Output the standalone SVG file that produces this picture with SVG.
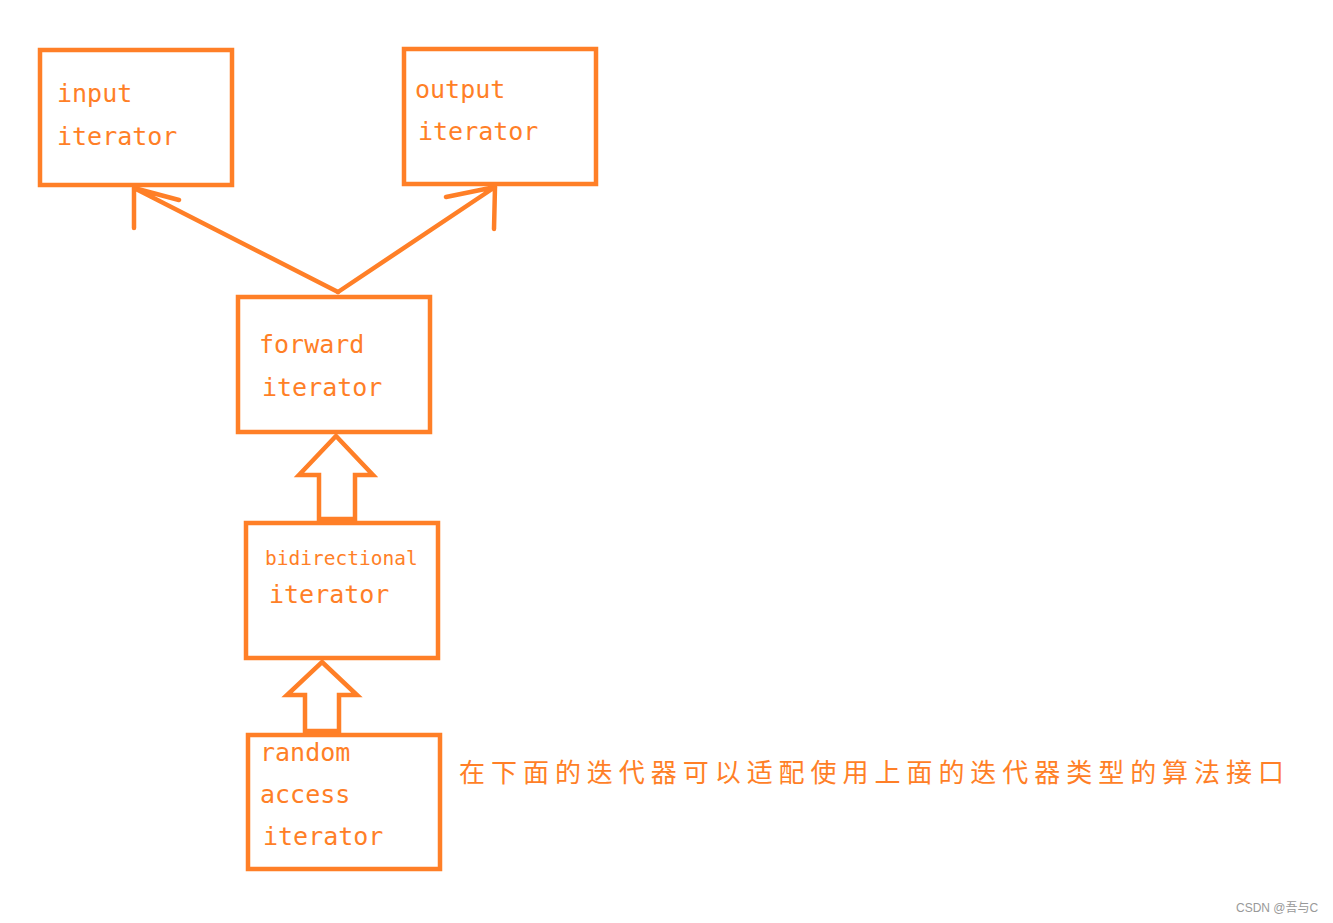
<svg xmlns="http://www.w3.org/2000/svg" width="1333" height="923" viewBox="0 0 1333 923">
<style>
.box{fill:none;stroke:#FF7F27;stroke-width:4.5}
.t{font-family:"DejaVu Sans Mono","Liberation Mono",monospace;font-size:25px;fill:#FF7F27}
.ln{fill:none;stroke:#FF7F27;stroke-width:4.5;stroke-linecap:round;stroke-linejoin:round}
.blk{fill:#fff;stroke:#FF7F27;stroke-width:4.5;stroke-linejoin:miter}
.cn{font-family:"Noto Sans CJK SC",sans-serif;font-size:26px;fill:#FF7F27}
</style>
<rect width="1333" height="923" fill="#fff"/>
<g id="connectors">
<path class="ln" d="M338,292 L134,188 M134,188 L134,228 M134,188 L179,200"/>
<path class="ln" d="M338,292 L495,187 M495,187 L494,229 M495,187 L446,197"/>
<path class="blk" d="M336,436 L373,475 L355,475 L355,519 L319,519 L319,475 L299,475 Z"/>
<path class="blk" d="M322,662 L357,695 L339,695 L339,731 L305,731 L305,695 L287,695 Z"/>
</g>
<g id="input">
<rect class="box" x="40" y="50" width="192" height="135"/>
<text class="t" x="57" y="102">input</text>
<text class="t" x="57" y="145">iterator</text>
</g>
<g id="output">
<rect class="box" x="404" y="49" width="192" height="135"/>
<text class="t" x="415" y="98">output</text>
<text class="t" x="418" y="140">iterator</text>
</g>
<g id="forward">
<rect class="box" x="238" y="297" width="192" height="135"/>
<text class="t" x="259" y="353">forward</text>
<text class="t" x="262" y="396">iterator</text>
</g>
<g id="bidirectional">
<rect class="box" x="246" y="523" width="192" height="135"/>
<text class="t" x="265" y="565" style="font-size:19.5px">bidirectional</text>
<text class="t" x="269" y="603">iterator</text>
</g>
<g id="random">
<rect class="box" x="248" y="735" width="192" height="134"/>
<text class="t" x="260" y="761">random</text>
<text class="t" x="260" y="803">access</text>
<text class="t" x="263" y="845">iterator</text>
</g>
<g id="note">
<text class="cn" x="459" y="782" textLength="825" lengthAdjust="spacing">在下面的迭代器可以适配使用上面的迭代器类型的算法接口</text>
</g>
<text x="1236" y="912" style="font-family:'Liberation Sans','Noto Sans CJK SC',sans-serif;font-size:12px;fill:#999">CSDN @吾与C</text>
</svg>
